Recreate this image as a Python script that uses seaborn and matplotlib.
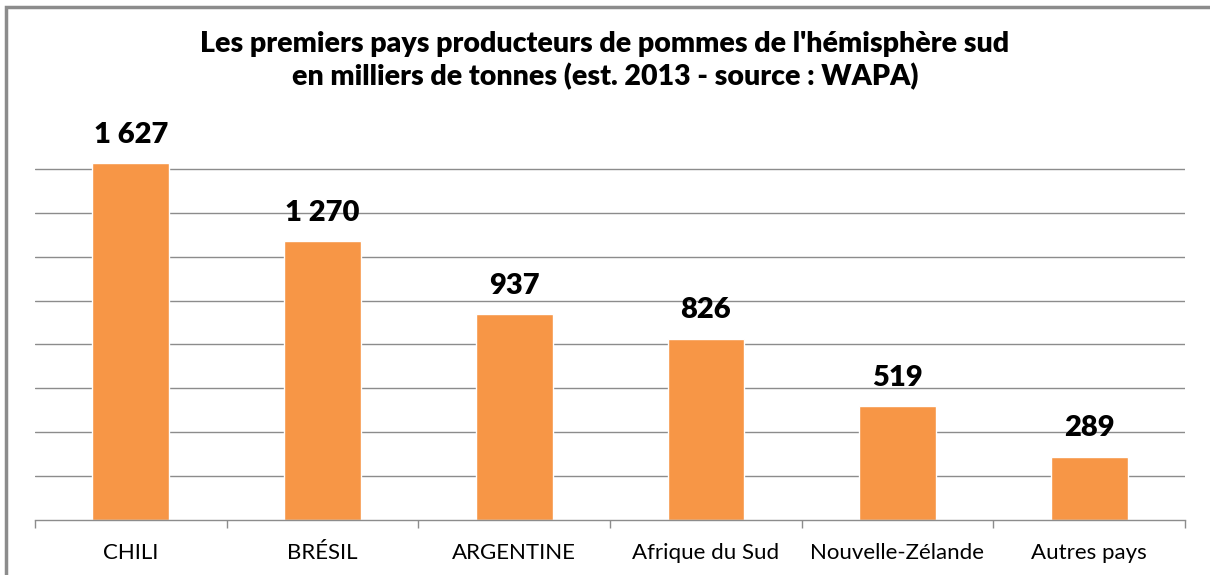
import pandas as pd
import matplotlib.pyplot as plt
import seaborn as sns
from matplotlib.patches import Rectangle

# Données (milliers de tonnes, est. 2013 - WAPA)
pays = ["CHILI", "BRÉSIL", "ARGENTINE", "Afrique du Sud", "Nouvelle-Zélande", "Autres pays"]
production = [1627, 1270, 937, 826, 519, 289]

data = pd.DataFrame({"Pays": pays, "Production": production})

sns.set_style("white")
plt.rcParams['font.family'] = ['Lato', 'DejaVu Sans']
plt.rcParams['text.color'] = 'black'
plt.rcParams['xtick.color'] = 'black'

fig = plt.figure(figsize=(12.1, 5.75), dpi=100)
ax = fig.add_axes([35 / 1210, 55 / 575, 1150 / 1210, 395 / 575])

sns.barplot(x="Pays", y="Production", data=data, color="#F79646",
            width=0.4, saturation=1, ax=ax)

ax.set_ylim(0, 1800)
ax.set_xlim(-0.5, len(pays) - 0.5)
ax.set_yticks(range(200, 1700, 200))
ax.yaxis.grid(True, color="#8C8C8C", linewidth=1)
ax.set_axisbelow(True)
ax.tick_params(axis="y", left=False, labelleft=False)

# Graduations entre les catégories
ax.set_xticks([i - 0.5 for i in range(len(pays) + 1)], minor=True)
ax.tick_params(axis="x", which="minor", bottom=True, length=6, color="#8C8C8C", width=1)
ax.tick_params(axis="x", which="major", bottom=False, labelsize=16, labelcolor="black", pad=13)

for side in ["left", "right", "top"]:
    ax.spines[side].set_visible(False)
ax.spines["bottom"].set_color("#8C8C8C")
ax.spines["bottom"].set_linewidth(1)

ax.set_xlabel("")
ax.set_ylabel("")

labels = [f"{v:,}".replace(",", " ") for v in production]
ax.bar_label(ax.containers[0], labels=labels, padding=11,
             fontsize=21, fontweight="heavy", color="black")

fig.text(0.5, 0.895, "Les premiers pays producteurs de pommes de l'hémisphère sud\n"
         "en milliers de tonnes (est. 2013 - source : WAPA)",
         ha="center", va="center", fontsize=20.5, fontweight="heavy",
         color="black", linespacing=1.25)

# Cadre du graphique
fig.patches.append(Rectangle((6 / 1210, -0.1), 1.2, 1 - 7 / 575 + 0.1,
                             transform=fig.transFigure, fill=False,
                             edgecolor="#8C8C8C", linewidth=2.5))

plt.savefig("out.png", dpi=100)
